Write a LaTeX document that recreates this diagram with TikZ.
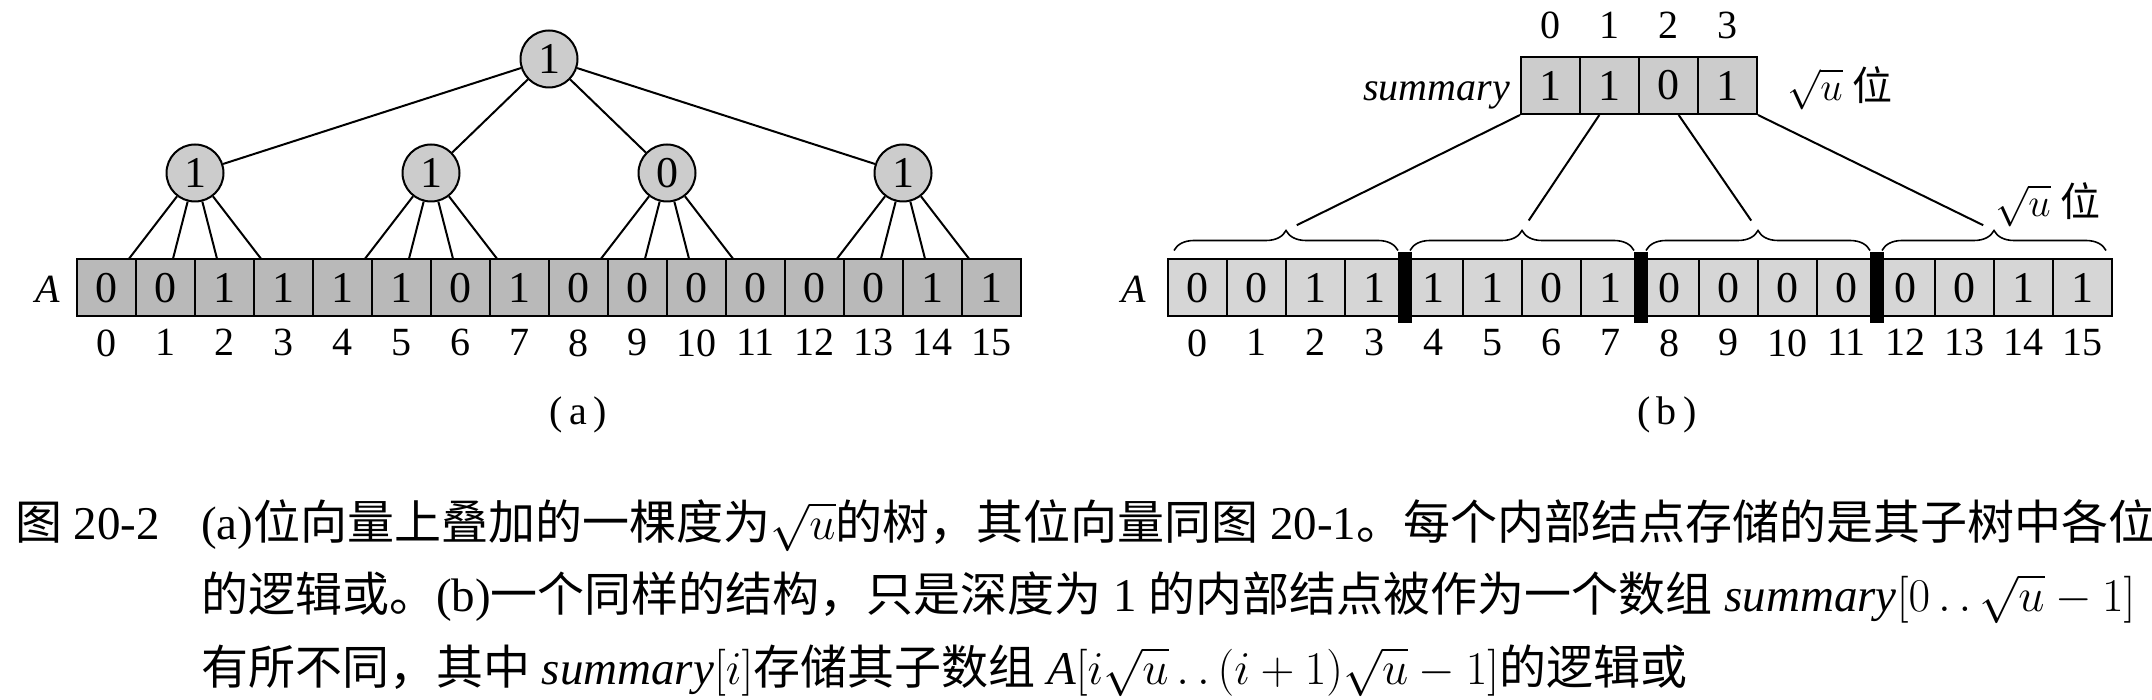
\RequirePackage{fix-cm}
\documentclass[tikz,border=0pt]{standalone}
\usepackage{fontspec}
\setmainfont{Liberation Serif}
\newfontfamily\cjk{Noto Sans CJK SC}
\usepackage{tikz}
\usetikzlibrary{automata,positioning,calc,decorations.pathreplacing}

\begin{document}
\begin{tikzpicture}[x=1pt,y=-1pt,node distance=59pt,line width=2pt,label distance=11pt,
    every state/.style={fill=gray!40,minimum size=57pt,inner sep=0pt,font=\fontsize{44}{44}\selectfont},
    bit/.style={draw,fill=gray!55,minimum width=59pt,minimum height=57pt,inner sep=0pt,font=\fontsize{44}{44}\selectfont},
    rbit/.style={bit,fill=gray!32},
    idx/.style={inner sep=0pt,font=\fontsize{40}{40}\selectfont},
    lbl/.style={inner sep=0pt,font=\fontsize{40}{40}\selectfont},
    bar/.style={fill=black,minimum width=14pt,minimum height=71pt,inner sep=0pt},
    brc/.style={decorate,decoration={brace,amplitude=20pt},line width=1.6pt},
    capline/.style={inner sep=0pt,anchor=base west,font=\fontsize{47}{72}\selectfont}]
  \useasboundingbox (0,0) rectangle (2152,700);

  % (a) bit vector with the tree on top
  \node[bit,label={[idx]below:0}]  (a0) at (106.5,288) {0};
  \node[bit,label={[idx]below:1}]  (a1) [right of=a0]  {0};
  \node[bit,label={[idx]below:2}]  (a2) [right of=a1]  {1};
  \node[bit,label={[idx]below:3}]  (a3) [right of=a2]  {1};
  \node[bit,label={[idx]below:4}]  (a4) [right of=a3]  {1};
  \node[bit,label={[idx]below:5}]  (a5) [right of=a4]  {1};
  \node[bit,label={[idx]below:6}]  (a6) [right of=a5]  {0};
  \node[bit,label={[idx]below:7}]  (a7) [right of=a6]  {1};
  \node[bit,label={[idx]below:8}]  (a8) [right of=a7]  {0};
  \node[bit,label={[idx]below:9}]  (a9) [right of=a8]  {0};
  \node[bit,label={[idx]below:10}] (a10) [right of=a9]  {0};
  \node[bit,label={[idx]below:11}] (a11) [right of=a10] {0};
  \node[bit,label={[idx]below:12}] (a12) [right of=a11] {0};
  \node[bit,label={[idx]below:13}] (a13) [right of=a12] {0};
  \node[bit,label={[idx]below:14}] (a14) [right of=a13] {1};
  \node[bit,label={[idx]below:15}] (a15) [right of=a14] {1};
  \node[lbl,left=15pt of a0.base west,anchor=base east] (la) {\textit{A}};

  \node[state] (v0) at (549,59)  {1};
  \node[state] (v1) at (195,173) {1};
  \node[state] (v2) at (431,173) {1};
  \node[state] (v3) at (667,173) {0};
  \node[state] (v4) at (903,173) {1};

  \path (v0) edge (v1) edge (v2) edge (v3) edge (v4)
        (v1) edge (a0) edge (a1) edge (a2) edge (a3)
        (v2) edge (a4) edge (a5) edge (a6) edge (a7)
        (v3) edge (a8) edge (a9) edge (a10) edge (a11)
        (v4) edge (a12) edge (a13) edge (a14) edge (a15);

  \node[lbl] (pa) at (578,415) {(\,a\,)};

  % (b) summary array over the clusters
  \node[rbit,fill=gray!40,label={[idx,yshift=5.5pt]above:0}] (s0) at (1550.5,85.5) {1};
  \node[rbit,fill=gray!40,label={[idx,yshift=5.5pt]above:1}] (s1) [right of=s0] {1};
  \node[rbit,fill=gray!40,label={[idx,yshift=5.5pt]above:2}] (s2) [right of=s1] {0};
  \node[rbit,fill=gray!40,label={[idx,yshift=5.5pt]above:3}] (s3) [right of=s2] {1};
  \node[lbl,left=9pt of s0.base west,anchor=base east] (ls) {\textit{summary}};
  \node[lbl,right=28pt of s3.base east,anchor=base west] (ws) {$\sqrt{u}$ {\cjk 位}};

  \node[rbit,label={[idx]below:0}]  (b0) at (1197.5,288) {0};
  \node[rbit,label={[idx]below:1}]  (b1) [right of=b0]  {0};
  \node[rbit,label={[idx]below:2}]  (b2) [right of=b1]  {1};
  \node[rbit,label={[idx]below:3}]  (b3) [right of=b2]  {1};
  \node[rbit,label={[idx]below:4}]  (b4) [right of=b3]  {1};
  \node[rbit,label={[idx]below:5}]  (b5) [right of=b4]  {1};
  \node[rbit,label={[idx]below:6}]  (b6) [right of=b5]  {0};
  \node[rbit,label={[idx]below:7}]  (b7) [right of=b6]  {1};
  \node[rbit,label={[idx]below:8}]  (b8) [right of=b7]  {0};
  \node[rbit,label={[idx]below:9}]  (b9) [right of=b8]  {0};
  \node[rbit,label={[idx]below:10}] (b10) [right of=b9]  {0};
  \node[rbit,label={[idx]below:11}] (b11) [right of=b10] {0};
  \node[rbit,label={[idx]below:12}] (b12) [right of=b11] {0};
  \node[rbit,label={[idx]below:13}] (b13) [right of=b12] {0};
  \node[rbit,label={[idx]below:14}] (b14) [right of=b13] {1};
  \node[rbit,label={[idx]below:15}] (b15) [right of=b14] {1};
  \node[lbl,left=20pt of b0.base west,anchor=base east] (lb) {\textit{A}};

  \node[bar] (k1) at (b3.east)  {};
  \node[bar] (k2) at (b7.east)  {};
  \node[bar] (k3) at (b11.east) {};

  \draw[brc] ($(b0.north west)+(7,-8)$)  -- ($(b3.north east)+(-7,-8)$);
  \draw[brc] ($(b4.north west)+(7,-8)$)  -- ($(b7.north east)+(-7,-8)$);
  \draw[brc] ($(b8.north west)+(7,-8)$)  -- ($(b11.north east)+(-7,-8)$);
  \draw[brc] ($(b12.north west)+(7,-8)$) -- ($(b15.north east)+(-7,-8)$);
  \coordinate (t1) at ($(b0.north west)!0.5!(b3.north east)+(0,-28)$);
  \coordinate (t2) at ($(b4.north west)!0.5!(b7.north east)+(0,-28)$);
  \coordinate (t3) at ($(b8.north west)!0.5!(b11.north east)+(0,-28)$);
  \coordinate (t4) at ($(b12.north west)!0.5!(b15.north east)+(0,-28)$);
  \coordinate (p1) at ($(s0.south west)!1/3!(s3.south east)$);
  \coordinate (p2) at ($(s0.south west)!2/3!(s3.south east)$);

  \path[shorten >=12pt] (s0.south west) edge (t1)
                        (p1) edge (t2)
                        (p2) edge (t3)
                        (s3.south east) edge (t4);
  \node[lbl,anchor=south west] (wb) at ($(t4)+(0,-3)$) {$\sqrt{u}$ {\cjk 位}};

  \node[lbl] (pb) at (1667,415) {(\,b\,)};

  % caption
  \node[capline] (c0) at (14,539) {{\cjk 图} 20-2};
  \node[capline] (c1) at (200,539) {(a){\cjk 位向量上叠加的一棵度为}\smash{$\sqrt{u}$}{\cjk 的树，其位向量同图} 20-1{\cjk 。每个内部结点存储的是其子树中各位}};
  \node[capline] (c2) at (200,611) {{\cjk 的逻辑或。}(b){\cjk 一个同样的结构，只是深度为} 1 {\cjk 的内部结点被作为一个数组} \textit{summary}\smash{$[0\,.\,.\,\sqrt{u}-1]$}};
  \node[capline] (c3) at (200,684) {{\cjk 有所不同，其中} \textit{summary}\smash{$[i]$}{\cjk 存储其子数组} \textit{A}\smash{$[i\sqrt{u}\,.\,.\,(i+1)\sqrt{u}-1]$}{\cjk 的逻辑或}};
\end{tikzpicture}
\end{document}
